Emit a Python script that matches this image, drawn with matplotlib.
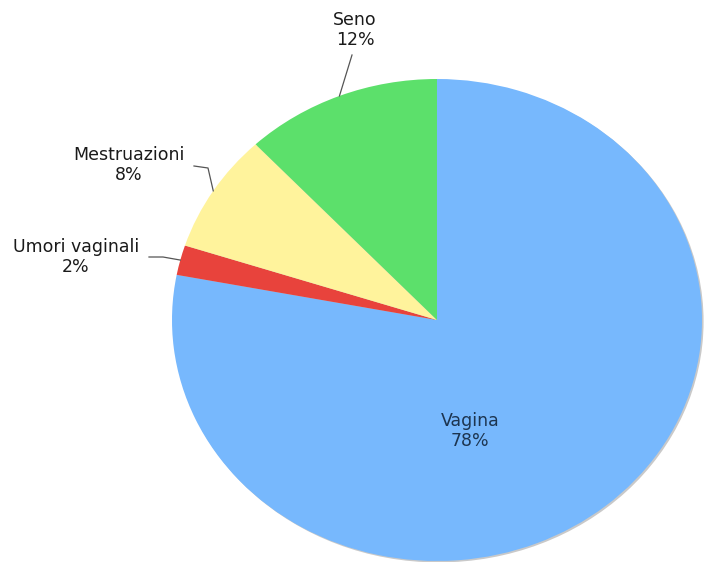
import matplotlib
matplotlib.use('Agg')
import matplotlib.pyplot as plt
from matplotlib.patches import Ellipse
import numpy as np

labels = ['Vagina', 'Umori vaginali', 'Mestruazioni', 'Seno']
values = [78, 2, 8, 12]
colors = ['#77b8fd', '#e8433c', '#fff39c', '#5ce06b']

W, H = 704, 562
CX, CY, RX, RY = 437, 320, 265, 241


def px(x, y):
    # pixel position -> data coords (pie radius 1 mapped onto an ellipse)
    return (x - CX) / RX, (CY - y) / RY


fig = plt.figure(figsize=(W / 100, H / 100), dpi=100)
ax = fig.add_axes([0, 0, 1, 1])
ax.set_axis_off()

# soft grey rim on the lower right
ax.add_patch(Ellipse((0.006, -0.006), 2, 2, facecolor='#c9c9c9', edgecolor='none', zorder=0))

wedges, _ = ax.pie(values, colors=colors, startangle=90, counterclock=False,
                   wedgeprops=dict(linewidth=0, edgecolor='none'))
ax.set_aspect('auto')
ax.set_xlim(px(0, 0)[0], px(W, 0)[0])
ax.set_ylim(px(0, H)[1], px(0, 0)[1])

# label text centre (pixels) and leader elbow points (pixels)
text_pos = {'Umori vaginali': (76, 257), 'Mestruazioni': (129, 165), 'Seno': (355, 30)}
leaders = {'Umori vaginali': [(163, 257), (149, 257)],
           'Mestruazioni': [(208, 168), (194, 166)],
           'Seno': [(352, 55)]}

for w, lab, v in zip(wedges, labels, values):
    pct = f'{lab}\n{v}%'
    if lab == 'Vagina':
        x, y = px(470, 431)
        ax.text(x, y, pct, ha='center', va='center', fontsize=12.5, color='#1d3550',
                linespacing=1.2)
        continue
    ang = np.deg2rad((w.theta1 + w.theta2) / 2)
    pts = [(np.cos(ang), np.sin(ang))] + [px(*p) for p in leaders[lab]]
    ax.plot([p[0] for p in pts], [p[1] for p in pts], color='#555555', lw=0.9)
    x, y = px(*text_pos[lab])
    ax.text(x, y, pct, ha='center', va='center', fontsize=12.5, color='#1a1a1a',
            linespacing=1.2)

fig.savefig('out.png', dpi=100)
